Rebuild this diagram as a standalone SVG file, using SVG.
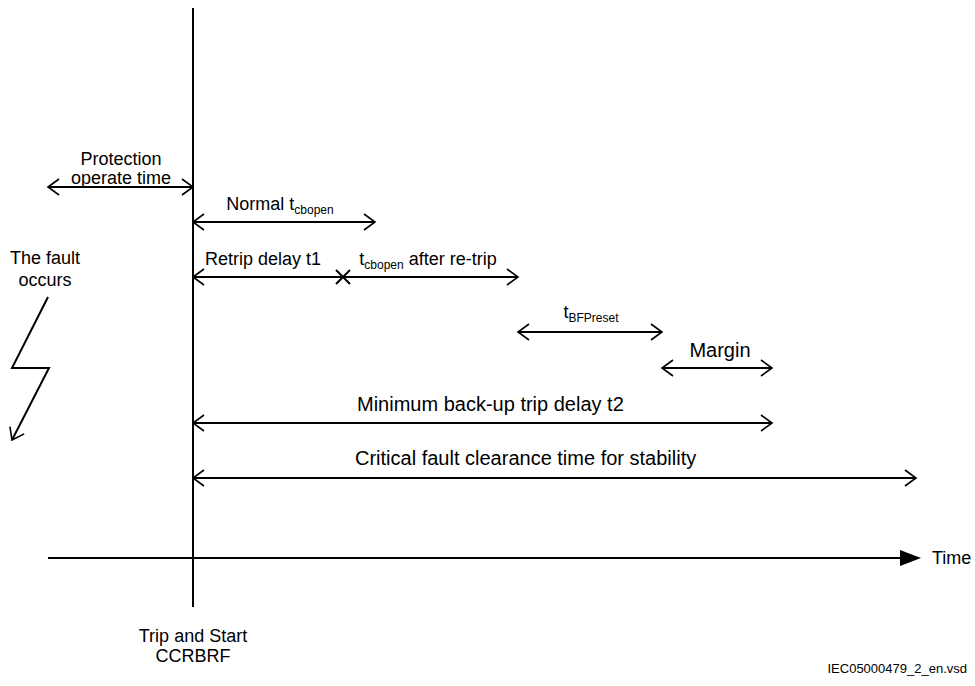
<svg xmlns="http://www.w3.org/2000/svg" width="975" height="686" viewBox="0 0 975 686">
<style>
text{font-family:"Liberation Sans",Arial,sans-serif;font-size:18px;fill:#000}
.c{text-anchor:middle}
.big{font-size:20px}
.ln{stroke:#000;stroke-width:2;fill:none}
.sub{font-size:12px}
</style>
<defs>
<marker id="oa" markerUnits="userSpaceOnUse" markerWidth="14" markerHeight="18" refX="12" refY="9" orient="auto-start-reverse" viewBox="0 0 14 18">
<path d="M1,1 L12,9 L1,17" fill="none" stroke="#000" stroke-width="1.6"/>
</marker>
<marker id="fa" markerUnits="userSpaceOnUse" markerWidth="22" markerHeight="18" refX="2" refY="9" orient="auto" viewBox="0 0 22 18">
<path d="M0,1 L21,9 L0,17 Z" fill="#000"/>
</marker>
</defs>
<rect width="975" height="686" fill="#fff"/>
<g id="connectors">
<line class="ln" x1="193" y1="8" x2="193" y2="607"/>
<line class="ln" x1="48" y1="558" x2="902" y2="558" marker-end="url(#fa)"/>
<line class="ln" x1="48" y1="187" x2="193" y2="187" marker-start="url(#oa)" marker-end="url(#oa)"/>
<line class="ln" x1="193" y1="222" x2="375" y2="222" marker-start="url(#oa)" marker-end="url(#oa)"/>
<line class="ln" x1="193" y1="277" x2="343" y2="277" marker-start="url(#oa)"/>
<path class="ln" d="M336,270 L350,284 M350,270 L336,284" stroke-width="1.6"/>
<line class="ln" x1="343" y1="277" x2="518" y2="277" marker-end="url(#oa)"/>
<line class="ln" x1="518" y1="332" x2="662" y2="332" marker-start="url(#oa)" marker-end="url(#oa)"/>
<line class="ln" x1="662" y1="368" x2="772" y2="368" marker-start="url(#oa)" marker-end="url(#oa)"/>
<line class="ln" x1="193" y1="423" x2="772" y2="423" marker-start="url(#oa)" marker-end="url(#oa)"/>
<line class="ln" x1="193" y1="478" x2="916" y2="478" marker-start="url(#oa)" marker-end="url(#oa)"/>
<path class="ln" d="M48,297 L12,368 L49,368 L12,440" marker-end="url(#oa)"/>
</g>
<g id="labels">
<text class="c" x="121" y="165">Protection</text>
<text class="c" x="121" y="184">operate time</text>
<text class="c" x="280" y="210">Normal t<tspan class="sub" dy="4">cbopen</tspan></text>
<text class="c" x="263" y="265">Retrip delay t1</text>
<text class="c" x="428" y="265">t<tspan class="sub" dy="4">cbopen</tspan><tspan dy="-4"> after re-trip</tspan></text>
<text class="c" x="591" y="318">t<tspan class="sub" dy="4">BFPreset</tspan></text>
<text class="c big" x="720" y="357">Margin</text>
<text class="big" x="357" y="411">Minimum back-up trip delay t2</text>
<text class="big" x="355" y="465">Critical fault clearance time for stability</text>
<text class="c" x="45" y="264">The fault</text>
<text class="c" x="45" y="286">occurs</text>
<text x="932" y="564">Time</text>
<text class="c" x="193" y="642">Trip and Start</text>
<text class="c" x="193" y="662">CCRBRF</text>
<text x="967" y="673" text-anchor="end" style="font-size:13px">IEC05000479_2_en.vsd</text>
</g>
</svg>
